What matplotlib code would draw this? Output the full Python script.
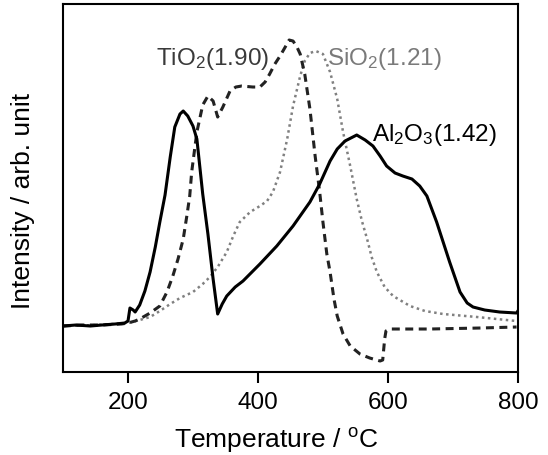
import matplotlib
matplotlib.use("Agg")
import matplotlib.pyplot as plt

plt.rcParams['font.family'] = ['Liberation Sans', 'DejaVu Sans']
plt.rcParams['mathtext.fontset'] = 'custom'
plt.rcParams['mathtext.rm'] = 'Liberation Sans'
plt.rcParams['mathtext.it'] = 'Liberation Sans'

# Al2O3 (solid)
al_temp = [100, 120, 142, 160, 180, 195, 200, 203, 208, 211, 218, 226, 234, 242, 249, 257, 265,
           272, 280, 285, 292, 300, 306, 315, 323, 331, 338, 345, 352, 365, 377, 403, 429, 454,
           480, 495, 511, 522, 534, 552, 565, 577, 588, 598, 611, 623, 637, 649, 660, 675, 695,
           711, 722, 731, 749, 772, 798, 800]
al_int = [46, 47, 46, 47, 48, 49, 51, 64, 62, 60, 67, 81, 100, 125, 150, 177, 215,
          245, 258, 261, 256, 246, 233, 178, 138, 93, 58, 68, 76, 85, 91, 108, 126, 146,
          170, 188, 211, 223, 231, 237, 232, 226, 216, 206, 199, 196, 193, 186, 176, 150, 110,
          80, 69, 65, 62, 60, 59, 61]

# TiO2 (dashed)
ti_temp = [100, 130, 160, 190, 200, 211, 218, 234, 249, 260, 269, 277, 285, 291, 295, 298, 306,
           311, 315, 323, 331, 338, 346, 357, 366, 375, 392, 403, 411, 418, 426, 434, 442, 448,
           454, 460, 465, 472, 480, 488, 495, 500, 506, 511, 517, 522, 531, 542, 557, 572, 588,
           592, 595, 597, 603, 665, 742, 798]
ti_int = [46, 47, 47, 48, 49, 51, 53, 59, 66, 80, 96, 113, 133, 158, 176, 200, 240,
          255, 267, 276, 271, 255, 265, 281, 285, 286, 285, 285, 290, 298, 308, 316, 325, 332,
          331, 325, 318, 298, 263, 216, 180, 150, 118, 100, 73, 56, 38, 26, 18, 14, 11,
          12, 33, 41, 43, 43, 44, 45]

# SiO2 (dotted)
si_temp = [100, 150, 200, 218, 234, 249, 265, 280, 300, 315, 326, 338, 352, 362, 372, 388, 403,
           414, 423, 434, 445, 454, 465, 472, 480, 489, 500, 511, 522, 531, 542, 552, 560, 568,
           575, 583, 595, 608, 634, 657, 685, 737, 798]
si_int = [46, 47, 49, 52, 55, 61, 68, 74, 80, 88, 95, 105, 120, 136, 150, 160, 166,
          171, 180, 200, 233, 266, 296, 311, 319, 321, 318, 300, 273, 240, 206, 173, 151, 133,
          115, 100, 85, 76, 66, 61, 58, 55, 51]

fig = plt.figure(figsize=(5.48, 4.56), dpi=100)
ax = fig.add_axes([0.115, 0.182, 0.83, 0.807])

ax.plot(si_temp, si_int, color='#808080', linestyle=(0, (1, 1.4)), linewidth=1.8)
ax.plot(ti_temp, ti_int, color='#222222', linestyle=(0, (2.6, 1.8)), linewidth=2.2)
ax.plot(al_temp, al_int, color='black', linestyle='-', linewidth=2.2)

ax.text(418, 314, 'TiO$_2$(1.90)', ha='right', va='center', fontsize=17.5, color='#3a3a3a')
ax.text(507, 314, 'SiO$_2$(1.21)', ha='left', va='center', fontsize=17.5, color='#7a7a7a')
ax.text(576, 238, 'Al$_2$O$_3$(1.42)', ha='left', va='center', fontsize=17.5, color='black')

ax.set_xlim(100, 800)
ax.set_ylim(0, 368)
ax.set_xticks([200, 400, 600, 800])
ax.set_yticks([])
ax.tick_params(axis='x', direction='out', length=8, width=1.5, labelsize=17.5, pad=6)
for s in ax.spines.values():
    s.set_linewidth(1.5)

ax.set_xlabel('Temperature / $^\\mathrm{o}$C', fontsize=19, labelpad=8)
ax.set_ylabel('Intensity / arb. unit', fontsize=19, labelpad=20)
# labels sit a bit off-centre in the original
ax.xaxis.label.set_x(0.468)
ax.yaxis.label.set_y(0.467)

fig.savefig('out.png', dpi=100)
